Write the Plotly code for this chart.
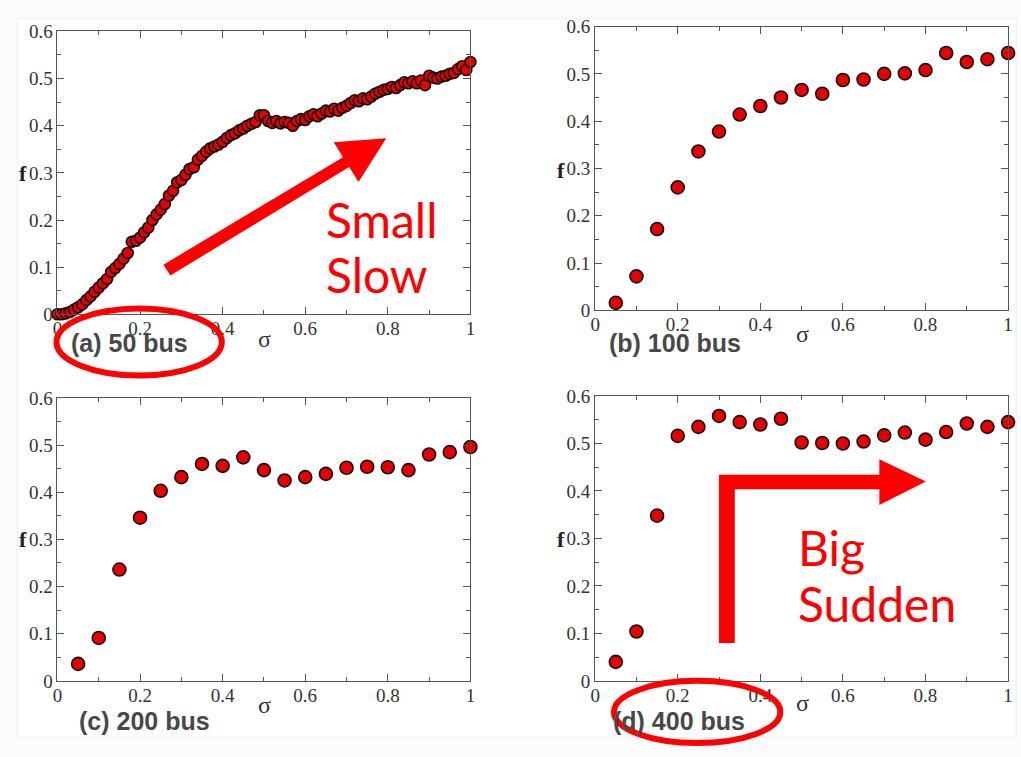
import plotly.graph_objects as go

W, H = 1021, 757

# ---------------- data ----------------
sigma_a = [round(i * 0.01, 2) for i in range(101)]
f_a = [0.000, 0.000, 0.002, 0.005, 0.010, 0.015, 0.021, 0.030, 0.038, 0.048,
       0.057, 0.066, 0.075, 0.090, 0.098, 0.107, 0.118, 0.130, 0.154, 0.156,
       0.163, 0.174, 0.184, 0.200, 0.212, 0.222, 0.234, 0.252, 0.262, 0.280,
       0.285, 0.296, 0.308, 0.312, 0.328, 0.336, 0.345, 0.352, 0.356, 0.360,
       0.366, 0.374, 0.380, 0.384, 0.390, 0.394, 0.400, 0.404, 0.408, 0.422,
       0.422, 0.410, 0.406, 0.410, 0.405, 0.408, 0.406, 0.400, 0.410, 0.414,
       0.412, 0.420, 0.424, 0.420, 0.426, 0.432, 0.430, 0.436, 0.432, 0.438,
       0.442, 0.448, 0.454, 0.452, 0.458, 0.456, 0.462, 0.468, 0.472, 0.476,
       0.478, 0.482, 0.480, 0.486, 0.492, 0.490, 0.494, 0.490, 0.496, 0.486,
       0.506, 0.502, 0.500, 0.504, 0.506, 0.510, 0.512, 0.520, 0.526, 0.518,
       0.535]

sigma_bcd = [0.05, 0.10, 0.15, 0.20, 0.25, 0.30, 0.35, 0.40, 0.45, 0.50,
             0.55, 0.60, 0.65, 0.70, 0.75, 0.80, 0.85, 0.90, 0.95, 1.00]
f_b = [0.016, 0.072, 0.172, 0.260, 0.336, 0.378, 0.414, 0.432, 0.450, 0.466,
       0.458, 0.487, 0.488, 0.500, 0.501, 0.508, 0.544, 0.525, 0.531, 0.544]
f_c = [0.036, 0.091, 0.236, 0.346, 0.403, 0.432, 0.460, 0.456, 0.474, 0.447,
       0.425, 0.432, 0.439, 0.452, 0.454, 0.453, 0.447, 0.480, 0.485, 0.496]
f_d = [0.040, 0.104, 0.348, 0.516, 0.535, 0.558, 0.545, 0.540, 0.552, 0.502,
       0.501, 0.500, 0.504, 0.517, 0.523, 0.508, 0.524, 0.542, 0.535, 0.545]

x_tickvals = [0, 0.2, 0.4, 0.6, 0.8, 1.0]
x_ticktext = ["0", "0.2", "0.4", "0.6", "0.8", "1"]
y_tickvals = [0, 0.1, 0.2, 0.3, 0.4, 0.5, 0.6]
y_ticktext = ["0", "0.1", "0.2", "0.3", "0.4", "0.5", "0.6"]

panel_labels = ["(a) 50 bus", "(b) 100 bus", "(c) 200 bus", "(d) 400 bus"]


def px(x):
    return x / W


def py(y):
    return 1 - y / H


# panel pixel boxes: (left, right, top, bottom)
boxes = [(53, 470, 22, 313), (596, 1013, 17, 309),
         (53, 470, 399, 690), (596, 1013, 397, 690)]

fig = go.Figure()

series = [(sigma_a, f_a, 11), (sigma_bcd, f_b, 13),
          (sigma_bcd, f_c, 13), (sigma_bcd, f_d, 13)]

for i, ((xs, ys, ms), box) in enumerate(zip(series, boxes)):
    n = "" if i == 0 else str(i + 1)
    fig.add_trace(go.Scatter(
        x=xs, y=ys, mode="markers", xaxis="x" + n, yaxis="y" + n,
        cliponaxis=False, showlegend=False, hoverinfo="skip",
        marker=dict(size=ms, color="#e80000",
                    line=dict(color="#111", width=1.6))))
    l, r, t, b = box
    axcommon = dict(showline=True, linecolor="#555", linewidth=1,
                    mirror="allticks", ticks="inside", ticklen=7,
                    tickcolor="#555", tickwidth=1, showgrid=False,
                    zeroline=False,
                    tickfont=dict(family="Liberation Serif", size=19,
                                  color="#333"))
    fig.update_layout(**{
        "xaxis" + n: dict(domain=[px(l), px(r)], range=[0, 1],
                          anchor="y" + n, tickvals=x_tickvals,
                          ticktext=x_ticktext, ticklabelstandoff=-3,
                          minor=dict(ticks="inside", ticklen=4,
                                     tickcolor="#555", dtick=0.1),
                          **axcommon),
        "yaxis" + n: dict(domain=[py(b), py(t)], range=[0, 0.6],
                          anchor="x" + n, tickvals=y_tickvals,
                          ticktext=y_ticktext,
                          minor=dict(ticks="inside", ticklen=4,
                                     tickcolor="#555", dtick=0.05),
                          **axcommon),
    })

annotations = []


def note(txt, x, y, font, xanchor="center"):
    annotations.append(dict(x=px(x), y=py(y), xref="paper", yref="paper",
                            xanchor=xanchor, yanchor="middle",
                            text=txt, showarrow=False, font=font))


# panel labels
label_pos = [(126, 343), (677, 343), (141, 731), (681, 731)]
for txt, (x, y) in zip(panel_labels, label_pos):
    note(txt, x, y, dict(family="Liberation Sans", size=25,
                         color="#484848", weight="bold"))
# sigma and f
for (x, y) in [(262, 338), (805, 333), (262, 715), (805, 713)]:
    note("σ", x, y, dict(family="Liberation Serif", size=24, color="#333"))
for (x, y) in [(18, 168), (562, 165), (18, 545), (562, 545)]:
    note("<b>f</b>", x, y, dict(family="Liberation Serif", size=22,
                                color="#222"))
# red text
for txt, (x, y) in [("Small", (322, 215)), ("Slow", (322, 272)),
                    ("Big", (799, 553)), ("Sudden", (799, 610))]:
    note(txt, x, y, dict(family="Lato", size=48, color="#ff0000"),
         xanchor="left")

fig.update_layout(annotations=annotations)


def poly(pts):
    return "M " + " L ".join(f"{px(x):.5f},{py(y):.5f}" for x, y in pts) + " Z"


shapes = [
    # faint slide frame
    dict(type="rect", xref="paper", yref="paper",
         x0=px(13), x1=px(1021), y0=py(748), y1=py(9),
         fillcolor="white", line=dict(color="#f0f0f0", width=1),
         layer="below"),
    dict(type="circle", xref="paper", yref="paper",
         x0=px(52), x1=px(219), y0=py(376), y1=py(307),
         line=dict(color="#ff0000", width=6), layer="above"),
    dict(type="circle", xref="paper", yref="paper",
         x0=px(615), x1=px(783), y0=py(754), y1=py(690),
         line=dict(color="#ff0000", width=6), layer="above"),
    dict(type="path", xref="paper", yref="paper",
         path=poly([(160, 262), (167, 273), (347.6, 161.6), (357, 177),
                    (385, 132), (332, 136), (341.4, 151.4)]),
         fillcolor="#ff0000", line=dict(width=0), layer="above"),
    dict(type="path", xref="paper", yref="paper",
         path=poly([(721, 651), (737, 651), (737, 493), (883, 493),
                    (883, 509), (930, 485), (883, 462), (883, 478),
                    (721, 478)]),
         fillcolor="#ff0000", line=dict(width=0), layer="above"),
]
fig.update_layout(shapes=shapes)

fig.update_layout(width=W, height=H, autosize=False,
                  margin=dict(l=0, r=0, t=0, b=0),
                  paper_bgcolor="#fbfbfb", plot_bgcolor="white")

fig.write_html("out.html", config={"displayModeBar": False},
               post_script="document.body.style.margin='0';"
                           "document.body.style.overflow='hidden';")
